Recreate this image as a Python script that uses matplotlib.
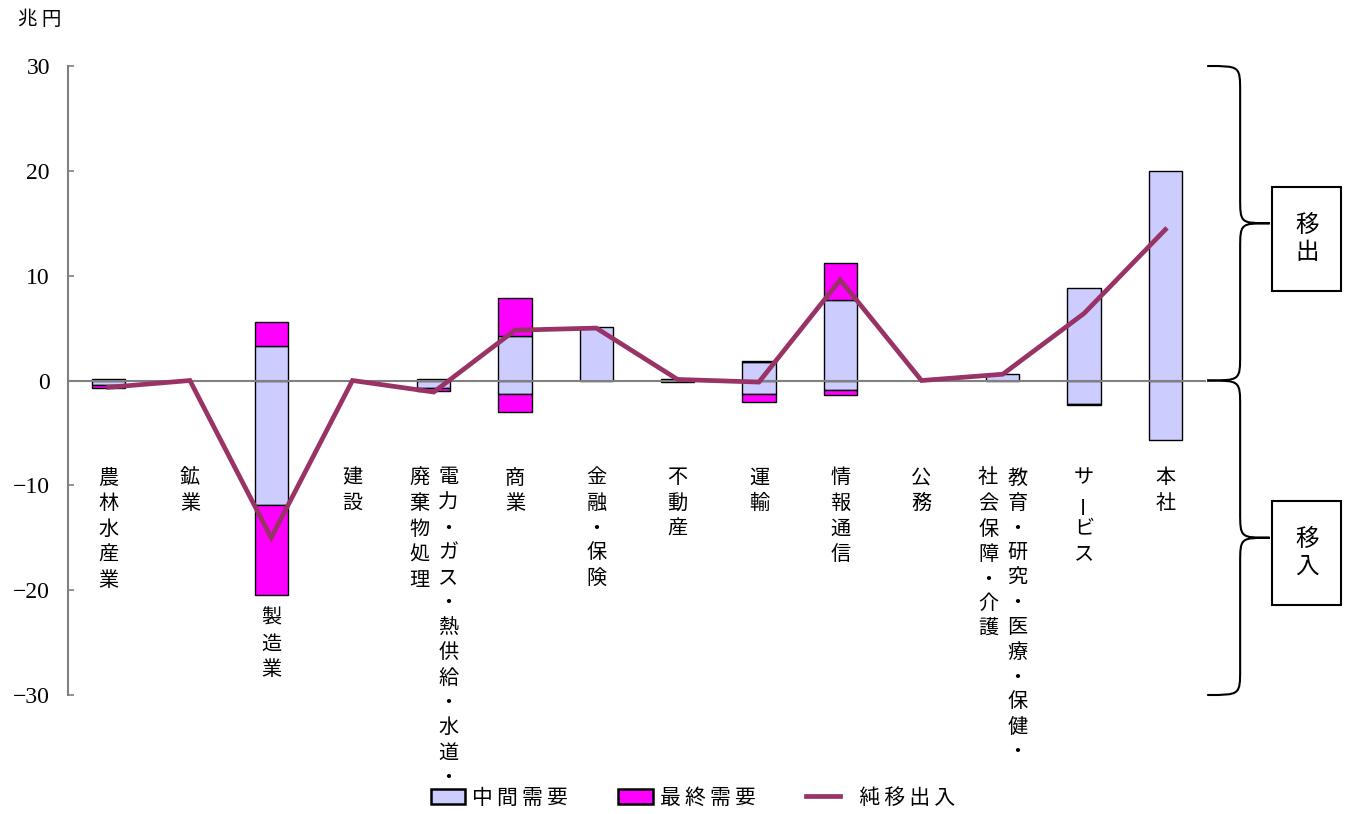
import matplotlib
matplotlib.use('Agg')
import matplotlib.pyplot as plt
import numpy as np
from matplotlib.patches import Patch, Rectangle, PathPatch
from matplotlib.lines import Line2D
from matplotlib.path import Path
import matplotlib.transforms as mtransforms

plt.rcParams['font.family'] = ['Noto Sans CJK JP', 'DejaVu Sans']

# 兆円, by industry
sectors = ['農林水産業', '鉱業', '製造業', '建設', '電力・ガス・熱供給・水道・廃棄物処理',
           '商業', '金融・保険', '不動産', '運輸', '情報通信', '公務',
           '教育・研究・医療・保健・社会保障・介護', 'サービス', '本社']
# label columns (vertical text, right column first)
label_cols = [['農林水産業'], ['鉱業'], ['製造業'], ['建設'],
              ['電力・ガス・熱供給・水道・', '廃棄物処理'],
              ['商業'], ['金融・保険'], ['不動産'], ['運輸'], ['情報通信'], ['公務'],
              ['教育・研究・医療・保健・', '社会保障・介護'],
              ['サービス'], ['本社']]

out_mid = [0.1, 0.0, 3.3, 0.0, 0.15, 4.2, 5.1, 0.15, 1.8, 7.7, 0.0, 0.6, 8.8, 20.0]
out_fin = [0.0, 0.0, 2.3, 0.0, 0.0, 3.7, 0.0, 0.0, 0.1, 3.5, 0.0, 0.0, 0.0, 0.0]
in_mid = [-0.4, 0.0, -11.9, 0.0, -0.75, -1.25, 0.0, -0.1, -1.25, -0.95, 0.0, 0.0, -2.2, -5.65]
in_fin = [-0.3, 0.0, -8.6, 0.0, -0.25, -1.8, 0.0, 0.0, -0.8, -0.45, 0.0, 0.0, -0.1, 0.0]
net = [-0.65, 0.0, -15.0, 0.0, -1.1, 4.8, 5.0, 0.1, -0.15, 9.6, 0.0, 0.6, 6.4, 14.4]
legend_labels = ['中間需要', '最終需要', '純移出入']

mid_color = '#CCCCFF'
fin_color = '#FF00FF'
line_color = '#993366'
axis_gray = '#808080'

fig = plt.figure(figsize=(13.54, 8.14), dpi=100)
ax = fig.add_axes([0.0502, 0.1462, 0.8405, 0.7727])

x = np.arange(len(sectors))
w = 0.41
out_mid = np.array(out_mid)
out_fin = np.array(out_fin)
in_mid = np.array(in_mid)
in_fin = np.array(in_fin)

bar_kw = dict(width=w, edgecolor='black', linewidth=1.0, zorder=2)
for i in x:
    if out_mid[i] > 0:
        ax.bar(i, out_mid[i], color=mid_color, **bar_kw)
    if out_fin[i] > 0:
        ax.bar(i, out_fin[i], bottom=out_mid[i], color=fin_color, **bar_kw)
    if in_mid[i] < 0:
        ax.bar(i, in_mid[i], color=mid_color, **bar_kw)
    if in_fin[i] < 0:
        ax.bar(i, in_fin[i], bottom=in_mid[i], color=fin_color, **bar_kw)

ax.axhline(0, color=axis_gray, linewidth=1.5, zorder=3)
ax.plot(x, net, color=line_color, linewidth=3.4, zorder=4, solid_joinstyle='miter')

ax.set_xlim(-0.5, len(sectors) - 0.5)
ax.set_ylim(-30, 30)
ax.set_yticks(np.arange(-30, 31, 10))
ax.set_xticks([])
for s in ['top', 'right', 'bottom']:
    ax.spines[s].set_visible(False)
ax.spines['left'].set_color(axis_gray)
ax.spines['left'].set_linewidth(1.5)
ax.tick_params(axis='y', direction='in', length=4, width=1.2, color=axis_gray,
               labelsize=17, pad=13)
for lab in ax.get_yticklabels():
    lab.set_family('Liberation Serif')

fig.text(0.0295, 0.976, '兆 円', fontsize=14, ha='center', va='center')

# vertical category labels, one character per line (advance in points)
adv_char = 18.4
adv_dot = 16.9
col_off = 0.18
for i in x:
    low = in_mid[i] + in_fin[i]
    y0 = min(-9.3, low - 2.2)
    cols = label_cols[i]
    n = len(cols)
    for c, txt in enumerate(cols):
        xc = i + (col_off if c == 0 else -col_off) if n == 2 else i
        off = 0.0
        prev = None
        for ch in txt:
            a = adv_dot if ch == '・' else adv_char
            if prev is not None:
                off += (prev + a) / 2
            prev = a
            rot = 90 if ch == 'ー' else 0
            ax.annotate(ch, xy=(xc, y0), xycoords='data',
                        xytext=(0, -off), textcoords='offset points',
                        ha='center', va='center', fontsize=14.5, rotation=rot,
                        annotation_clip=False)

# braces for 移出 / 移入
trans = mtransforms.blended_transform_factory(ax.transAxes, ax.transData)
xe, xv, xt = 1.001, 1.030, 1.056


def brace(top, bot):
    mid = (top + bot) / 2
    d = 2.5
    verts = [(xe, top),
             (xv, top), (xv, top), (xv, top - d),
             (xv, mid + d),
             (xv, mid), (xv, mid), (xt, mid),
             (xv, mid), (xv, mid), (xv, mid - d),
             (xv, bot + d),
             (xv, bot), (xv, bot), (xe, bot)]
    codes = [Path.MOVETO,
             Path.CURVE4, Path.CURVE4, Path.CURVE4,
             Path.LINETO,
             Path.CURVE4, Path.CURVE4, Path.CURVE4,
             Path.CURVE4, Path.CURVE4, Path.CURVE4,
             Path.LINETO,
             Path.CURVE4, Path.CURVE4, Path.CURVE4]
    p = PathPatch(Path(verts, codes), transform=trans, fill=False,
                  edgecolor='black', linewidth=1.5, clip_on=False)
    ax.add_patch(p)


brace(30, 0)
brace(0, -30)

for yb, yt, txt in [(8.5, 18.5, '移\n出'), (-21.4, -11.5, '移\n入')]:
    r = Rectangle((1.058, yb), 0.061, yt - yb, transform=trans, fill=False,
                  edgecolor='black', linewidth=1.5, clip_on=False)
    ax.add_patch(r)
    ax.text(1.0885, (yb + yt) / 2, txt, transform=trans, ha='center', va='center',
            fontsize=17, linespacing=1.25)

handles = [Patch(facecolor=mid_color, edgecolor='black', linewidth=1.8),
           Patch(facecolor=fin_color, edgecolor='black', linewidth=1.8),
           Line2D([], [], color=line_color, linewidth=3.4)]
spaced = ['\u2009'.join(s) for s in legend_labels]
spaced[2] = '\u2009\u2009\u2009' + spaced[2]
fig.legend(handles, spaced, loc='center',
           bbox_to_anchor=(0.512, 0.02), ncol=3, frameon=False, fontsize=15,
           handlelength=1.65, handleheight=0.7, handletextpad=0.35,
           columnspacing=2.4)

fig.savefig('out.png', dpi=100)
